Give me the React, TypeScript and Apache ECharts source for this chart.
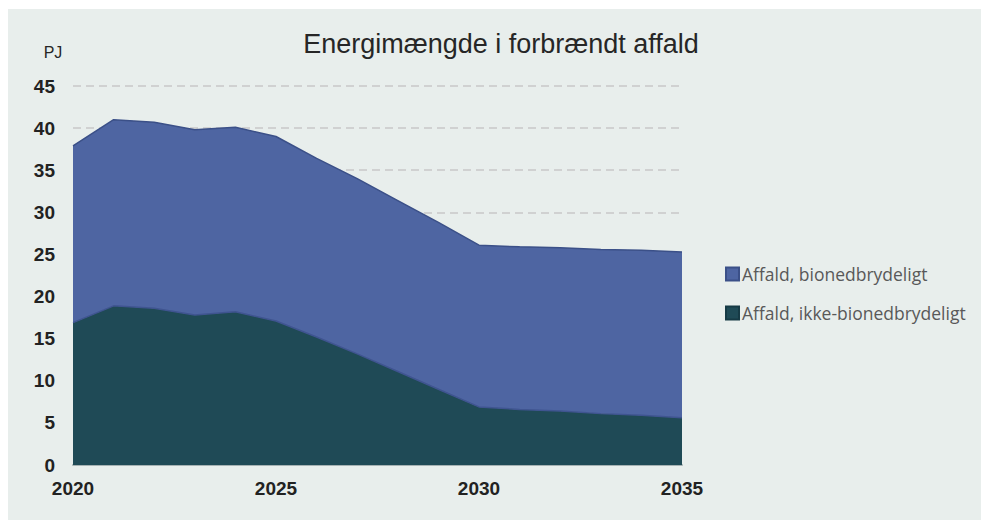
import React, { useEffect, useRef } from "react";
import * as echarts from "echarts";

const years = [
  "2020", "2021", "2022", "2023", "2024", "2025", "2026", "2027",
  "2028", "2029", "2030", "2031", "2032", "2033", "2034", "2035",
];
const ikkeBio = [16.9, 18.9, 18.6, 17.8, 18.2, 17.1, 15.2, 13.2, 11.1, 9.0, 6.9, 6.6, 6.4, 6.1, 5.9, 5.6];
const bio = [21.0, 22.1, 22.1, 22.0, 21.9, 21.9, 21.2, 20.8, 20.3, 19.8, 19.2, 19.3, 19.4, 19.5, 19.6, 19.7];
const yTicks = { min: 0, max: 45, interval: 5 };
const titleText = "Energimængde i forbrændt affald";
const unitText = "PJ";
const nameBio = "Affald, bionedbrydeligt";
const nameIkke = "Affald, ikke-bionedbrydeligt";

export default function App() {
  const ref = useRef<HTMLDivElement>(null);
  useEffect(() => {
    if (!ref.current) return;
    const chart = echarts.init(ref.current, null, { renderer: "svg" });
    chart.setOption({
      animation: false,
      backgroundColor: "#e8eeec",
      graphic: [
        {
          type: "text",
          x: 493,
          y: 35,
          style: {
            text: titleText,
            font: "27px 'Liberation Sans', Arial, sans-serif",
            fill: "#262626",
            textAlign: "center",
            textVerticalAlign: "middle",
          },
        },
        {
          type: "text",
          x: 45,
          y: 43,
          style: {
            text: unitText,
            font: "16px 'Liberation Sans', Arial, sans-serif",
            fill: "#262626",
            textAlign: "center",
            textVerticalAlign: "middle",
          },
        },
      ],
      legend: {
        orient: "vertical",
        left: 712,
        top: 251,
        icon: "rect",
        itemWidth: 13,
        itemHeight: 13,
        itemGap: 21,
        data: [nameBio, nameIkke],
        textStyle: {
          fontFamily: "'Open Sans', sans-serif",
          fontSize: 17.5,
          color: "#595959",
          padding: [0, 0, 0, -2],
        },
      },
      grid: { left: 65, right: 299, top: 77, bottom: 55, containLabel: false },
      xAxis: {
        type: "category",
        data: years,
        boundaryGap: false,
        axisLine: { show: true, lineStyle: { color: "#a6b2b3", width: 2 } },
        axisTick: { show: false },
        axisLabel: {
          interval: 4,
          margin: 14,
          fontFamily: "'Liberation Sans', Arial, sans-serif",
          fontWeight: "bold",
          fontSize: 19,
          color: "#222",
        },
        splitLine: { show: false },
      },
      yAxis: {
        type: "value",
        min: yTicks.min,
        max: yTicks.max,
        interval: yTicks.interval,
        axisLine: { show: false },
        axisTick: { show: false },
        axisLabel: {
          margin: 18,
          fontFamily: "'Liberation Sans', Arial, sans-serif",
          fontWeight: "bold",
          fontSize: 19,
          color: "#222",
        },
        splitLine: {
          show: true,
          lineStyle: { color: "#c8c8c8", width: 1.5, type: [8, 5] },
        },
      },
      series: [
        {
          name: nameIkke,
          type: "line",
          stack: "total",
          data: ikkeBio,
          symbol: "none",
          itemStyle: { color: "#1f4a56", borderColor: "#163a45", borderWidth: 1 },
          lineStyle: { color: "#3f5490", width: 1.5 },
          areaStyle: { color: "#1f4a56", opacity: 1 },
          z: 3,
        },
        {
          name: nameBio,
          type: "line",
          stack: "total",
          data: bio,
          symbol: "none",
          itemStyle: { color: "#4e65a2", borderColor: "#3b5088", borderWidth: 1 },
          lineStyle: { color: "#3b5088", width: 1.5 },
          areaStyle: { color: "#4e65a2", opacity: 1 },
          z: 2,
        },
      ],
    });
    return () => chart.dispose();
  }, []);
  return (
    <div
      ref={ref}
      style={{ position: "absolute", left: 8, top: 9, width: 973, height: 511 }}
    />
  );
}
